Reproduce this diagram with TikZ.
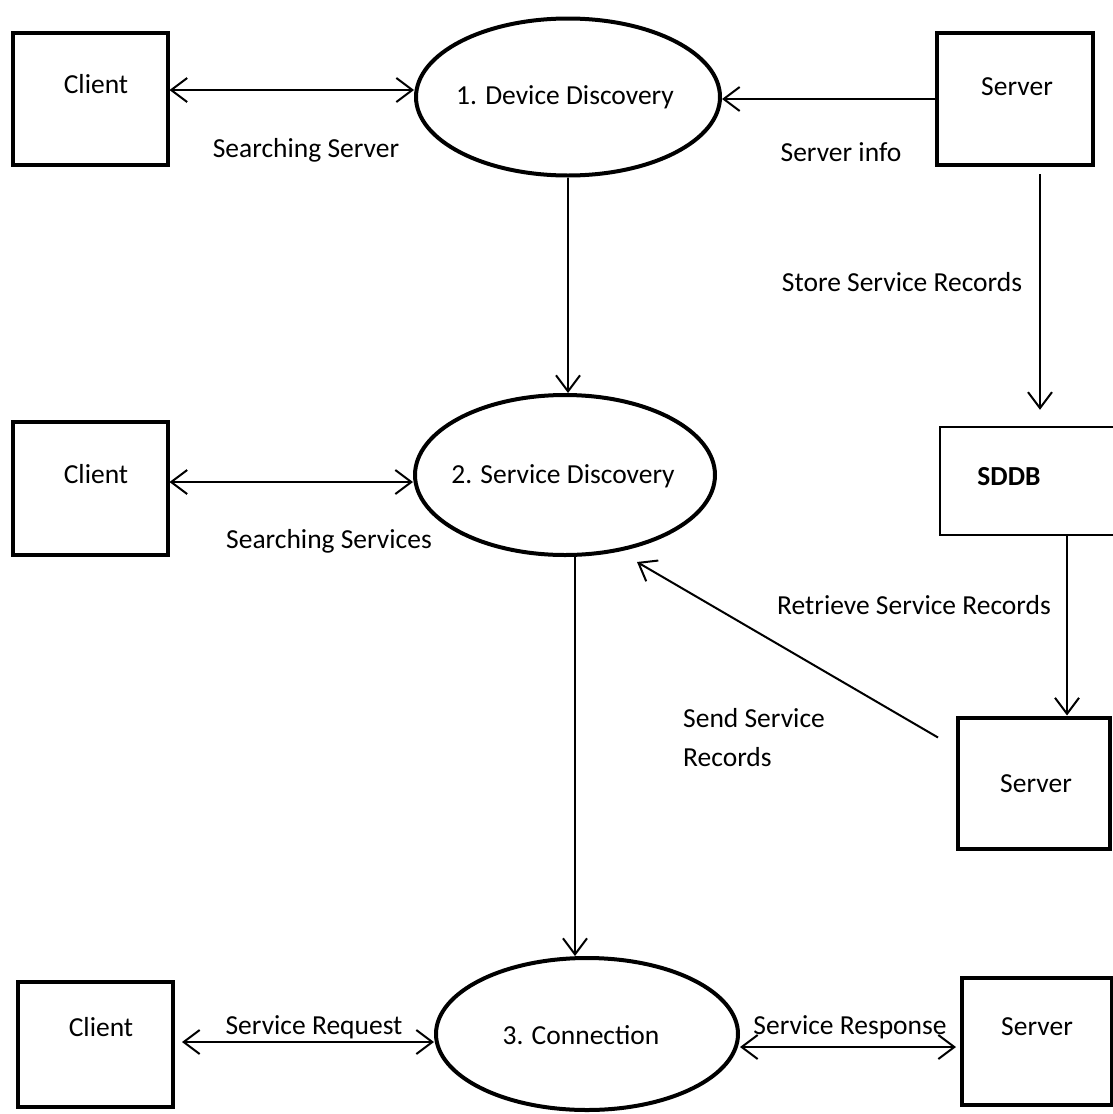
\documentclass[tikz,border=0pt]{standalone}
\usepackage{fontspec}
\setmainfont{Carlito}
\usetikzlibrary{arrows.meta,shapes.geometric}
\begin{document}
\begin{tikzpicture}[x=1pt,y=-1pt,
  box/.style={draw,line width=4pt,inner sep=0pt},
  proc/.style={draw,ellipse,line width=4pt,inner sep=0pt},
  lbl/.style={font=\fontsize{27.5}{33}\selectfont,inner sep=0pt},
  tip/.tip={Straight Barb[length=16pt,width=24pt]},
  flow/.style={line width=2pt,-tip},
  both/.style={line width=2pt,tip-tip}
]
\useasboundingbox[fill=white] (0,0) rectangle (1113,1114);

% boxes and processes
\node[box,minimum width=155pt,minimum height=132pt] (c1) at (90,99) {};
\node[proc,minimum width=304pt,minimum height=157pt] (e1) at (568,97) {};
\node[box,minimum width=156pt,minimum height=132pt] (s1) at (1015,99) {};
\node[box,minimum width=155pt,minimum height=133pt] (c2) at (90,488) {};
\node[proc,minimum width=300pt,minimum height=160pt] (e2) at (565,475) {};
\node[minimum width=173pt,minimum height=108pt,inner sep=0pt] (sddb) at (1026.5,481) {};
\draw[line width=2.5pt] (sddb.north east) -- (sddb.north west) -- (sddb.south west) -- (sddb.south east);
\node[box,minimum width=152pt,minimum height=131pt] (s3) at (1034,783) {};
\node[box,minimum width=155pt,minimum height=125pt] (c3) at (95.5,1044.5) {};
\node[proc,minimum width=302pt,minimum height=152pt] (e3) at (587,1034) {};
\node[box,minimum width=150pt,minimum height=127pt] (s4) at (1037,1041.5) {};

% texts in shapes
\node[lbl] (tc1) at (96,84) {Client};
\node[lbl] (te1) at (565,97) {1. Device Discovery};
\node[lbl] (ts1) at (1017,87) {Server};
\node[lbl] (tc2) at (96,474) {Client};
\node[lbl] (te2) at (563,476) {2. Service Discovery};
\node[lbl,font=\fontsize{27.5}{33}\selectfont\bfseries] (tsd) at (1009,477) {SDDB};
\node[lbl] (ts3) at (1036,784) {Server};
\node[lbl] (tc3) at (101,1027) {Client};
\node[lbl] (te3) at (581,1035) {3. Connection};
\node[lbl] (ts4) at (1037,1027) {Server};

% connectors
\draw[both] ([yshift=9pt]c1.east) -- ([yshift=9pt]c1.east -| e1.west);
\draw[flow] (s1.west) -- (s1.west -| e1.east);
\draw[flow] (e1.south) -- (e1.south |- e2.north);
\draw[flow,shorten <=7pt,shorten >=17pt] ([xshift=25pt]s1.south) -- ([xshift=25pt]s1.south |- sddb.north);
\draw[both] ([yshift=6pt]c2.east) -- ([yshift=6pt]c2.east -| e2.west);
\draw[flow] ([xshift=40.5pt]sddb.south) -- ([xshift=40.5pt]sddb.south |- s3.north);
\coordinate (sendto) at (637,562);
\draw[flow] ([shift={(-18pt,-22pt)}]s3.north west) -- (sendto);
\draw[flow] ([xshift=10pt]e2.south) -- ([xshift=10pt]e2.south |- e3.north);
\draw[both,shorten <=7pt] ([yshift=2.5pt]c3.east) -- ([yshift=2.5pt]c3.east -| e3.west);
\draw[both,shorten >=4pt] ([yshift=-5.5pt]s4.west -| e3.east) -- ([yshift=-5.5pt]s4.west);

% connector labels
\node[lbl] (l1) at (306,150) {Searching Server};
\node[lbl] (l2) at (841,152) {Server info};
\node[lbl] (l3) at (902,282) {Store Service Records};
\node[lbl] (l4) at (329,541) {Searching Services};
\node[lbl] (l5) at (914,605) {Retrieve Service Records};
\node[lbl,anchor=west,align=left,font=\fontsize{27.5}{39}\selectfont] (l6) at (683,738) {Send Service\\Records};
\node[lbl] (l7) at (314,1027) {Service Request};
\node[lbl] (l8) at (850,1027) {Service Response};
\end{tikzpicture}
\end{document}
